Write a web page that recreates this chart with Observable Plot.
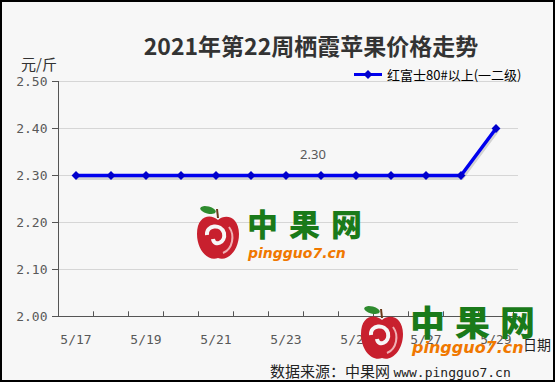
<!DOCTYPE html>
<html><head><meta charset="utf-8">
<script src="https://cdn.jsdelivr.net/npm/d3@7"></script>
<script src="https://cdn.jsdelivr.net/npm/@observablehq/plot@0.6"></script>
<style>
body{margin:0;background:#fff;}
#wrap{position:relative;width:558px;height:384px;background:#fff;overflow:hidden;font-family:"Noto Sans CJK SC",sans-serif;}
#bg{position:absolute;left:0;top:0;width:555px;height:382px;box-sizing:border-box;border:2px solid #000;background:#f7f7f7;}
#chart{position:absolute;left:0;top:0;}
.t{position:absolute;white-space:nowrap;line-height:1;}
.c{transform:translate(-50%,-50%);}
.v{transform:translateY(-50%);}
</style></head><body>
<div id="wrap">
<div id="bg"></div>
<div id="chart"></div>
<div class="t c" style="left:311px;top:45px;font-size:23px;font-weight:bold;color:#333;">2021年第22周栖霞苹果价格走势</div>
<div class="t v" style="left:21px;top:63px;font-size:15px;color:#333;">元/斤</div>
<svg style="position:absolute;left:350px;top:68px" width="36" height="14"><line x1="4" y1="6.5" x2="32" y2="6.5" stroke="#0000ee" stroke-width="3"/><path d="M18,2 L22.5,6.5 L18,11 L13.5,6.5Z" fill="#0000cc"/></svg>
<div class="t v" style="left:387px;top:74px;font-size:13px;color:#000;">红富士80#以上(一二级)</div>
<div class="t v" style="left:523px;top:344px;font-size:14px;color:#222;">日期</div>
<div class="t v" style="left:270px;top:371px;font-size:15px;color:#222;">数据来源：中果网 <span style="font-family:'DejaVu Sans Mono';font-size:13px;">www.pingguo7.cn</span></div>
<!-- watermark 1 -->
<svg style="position:absolute;left:195px;top:205px" width="46" height="58" viewBox="0 0 46 58">
<ellipse cx="13" cy="5" rx="8" ry="3.5" fill="#2e8b2e" transform="rotate(15 13 5)"/>
<line x1="22" y1="4" x2="23" y2="13" stroke="#6b3a1a" stroke-width="2"/>
<path d="M23,15 C15,8 2,11 2,29 C2,46 14,57 23,53 C32,57 44,46 44,29 C44,12 31,8 23,15Z" fill="#c8202e"/>
<path d="M12,30 C11,20 26,18 29,28 C31,38 19,42 18,34" stroke="#f7f7f7" stroke-width="4" fill="none"/>
<path d="M34,22 C40,30 38,44 28,48" stroke="#f0b0b4" stroke-width="2" fill="none"/>
</svg>
<div class="t" style="left:247px;top:207px;font-size:31px;font-weight:900;letter-spacing:11px;color:#1a7a1a;">中果网</div>
<div class="t" style="left:248px;top:246px;font-size:14px;font-weight:bold;font-style:italic;font-family:'DejaVu Sans';color:#f07800;">pingguo7.cn</div>
<!-- watermark 2 -->
<svg style="position:absolute;left:358px;top:305px" width="48" height="58" viewBox="0 0 46 58">
<ellipse cx="13" cy="5" rx="8" ry="3.5" fill="#2e8b2e" transform="rotate(15 13 5)"/>
<line x1="22" y1="4" x2="23" y2="13" stroke="#6b3a1a" stroke-width="2"/>
<path d="M23,15 C15,8 2,11 2,29 C2,46 14,57 23,53 C32,57 44,46 44,29 C44,12 31,8 23,15Z" fill="#c8202e"/>
<path d="M12,30 C11,20 26,18 29,28 C31,38 19,42 18,34" stroke="#f7f7f7" stroke-width="4" fill="none"/>
<path d="M34,22 C40,30 38,44 28,48" stroke="#f0b0b4" stroke-width="2" fill="none"/>
</svg>
<div class="t" style="left:410px;top:303px;font-size:35px;font-weight:900;letter-spacing:10px;color:#1a7a1a;">中果网</div>
<div class="t" style="left:412px;top:340px;font-size:16px;font-weight:bold;font-style:italic;font-family:'DejaVu Sans';color:#f07800;">pingguo7.cn</div>
</div>
<script>
const dates = ["5/17","5/18","5/19","5/20","5/21","5/22","5/23","5/24","5/25","5/26","5/27","5/28","5/29"];
const prices = [2.30,2.30,2.30,2.30,2.30,2.30,2.30,2.30,2.30,2.30,2.30,2.30,2.40];
const yTicks = [2.00,2.10,2.20,2.30,2.40,2.50];
const labeledDate = "5/24";

const data = dates.map((d, i) => ({i, date: d, price: prices[i]}));
const labelIdx = dates.map((d, i) => i).filter(i => i % 2 === 0);
const betweenIdx = dates.map((d, i) => i + 0.5);

const chart = Plot.plot({
  width: 558, height: 384,
  marginLeft: 58, marginRight: 40, marginTop: 81, marginBottom: 68,
  style: {background: "transparent", fontFamily: "DejaVu Sans Mono", fontSize: "13px", color: "#595959"},
  x: {domain: [-0.5, dates.length - 0.5], range: [58, 513], label: null},
  y: {domain: [yTicks[0], yTicks[yTicks.length - 1]], label: null},
  marks: [
    Plot.gridY(yTicks, {stroke: "#d6d6d6", strokeOpacity: 1}),
    Plot.ruleY([yTicks[0]], {stroke: "#555"}),
    Plot.ruleX([-0.5], {stroke: "#555"}),
    Plot.ruleX(betweenIdx, {y1: () => yTicks[0], y2: () => yTicks[0] + 0.01, stroke: "#555"}),
    Plot.axisY(yTicks, {tickFormat: d => d.toFixed(2), tickSize: 6, tickPadding: 5, stroke: "#555", fill: "#595959", label: null}),
    Plot.axisX(labelIdx, {tickFormat: i => dates[i], tickSize: 0, tickPadding: 18, fill: "#595959", label: null}),
    Plot.line(data, {x: "i", y: "price", stroke: "#000", strokeOpacity: 0.15, strokeWidth: 3, dx: 1, dy: 3}),
    Plot.line(data, {x: "i", y: "price", stroke: "#0000ee", strokeWidth: 3.5}),
    Plot.dot(data, {x: "i", y: "price", symbol: "diamond2", r: 4, fill: "#0000cc", stroke: "none"}),
    Plot.text(data.filter(d => d.date === labeledDate), {x: "i", y: "price", text: d => d.price.toFixed(2), dy: -21, dx: -8, fill: "#595959", fontFamily: "Noto Sans", fontSize: 13})
  ]
});
document.getElementById("chart").appendChild(chart);
</script>
</body></html>
